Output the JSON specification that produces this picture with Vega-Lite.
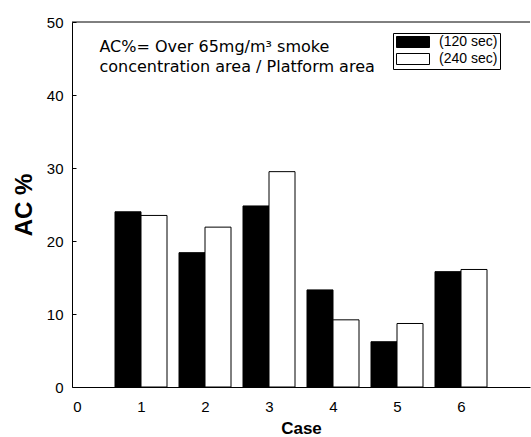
{
  "$schema": "https://vega.github.io/schema/vega-lite/v6.json",
  "autosize": "none",
  "padding": {"left": 72, "top": 22, "right": 1, "bottom": 50},
  "width": 458,
  "height": 365,
  "background": "white",
  "config": {
    "view": {"stroke": null},
    "font": "Liberation Sans",
    "axis": {"labelFont": "Liberation Sans", "titleFont": "Liberation Sans", "labelColor": "black", "titleColor": "black", "domainColor": "black", "tickColor": "black", "grid": false}
  },
  "data": {"values": [
    {"case": 1, "series": "(120 sec)", "value": 24.0},
    {"case": 1, "series": "(240 sec)", "value": 23.5},
    {"case": 2, "series": "(120 sec)", "value": 18.4},
    {"case": 2, "series": "(240 sec)", "value": 21.9},
    {"case": 3, "series": "(120 sec)", "value": 24.8},
    {"case": 3, "series": "(240 sec)", "value": 29.5},
    {"case": 4, "series": "(120 sec)", "value": 13.3},
    {"case": 4, "series": "(240 sec)", "value": 9.2},
    {"case": 5, "series": "(120 sec)", "value": 6.2},
    {"case": 5, "series": "(240 sec)", "value": 8.7},
    {"case": 6, "series": "(120 sec)", "value": 15.8},
    {"case": 6, "series": "(240 sec)", "value": 16.1}
  ]},
  "layer": [
    {
      "transform": [{"filter": "datum.series === '(120 sec)'"}],
      "mark": {"type": "bar", "width": 26, "xOffset": -13, "stroke": "black", "strokeWidth": 1},
      "encoding": {
        "x": {"field": "case", "type": "quantitative", "scale": {"domain": [0, 7], "nice": false},
              "axis": {"values": [0, 1, 2, 3, 4, 5, 6], "format": "d", "ticks": false, "labelFontSize": 15, "labelPadding": 12, "title": "Case", "titleFontSize": 17, "titleFontWeight": "bold", "titlePadding": 6}},
        "y": {"field": "value", "type": "quantitative", "scale": {"domain": [0, 50], "nice": false},
              "axis": {"values": [0, 5, 10, 15, 20, 25, 30, 35, 40, 45, 50], "labelExpr": "datum.value % 10 === 0 ? datum.label : ''", "tickSize": -4, "tickWidth": 1, "labelFontSize": 15, "labelPadding": 13, "title": "AC %", "titleFontSize": 24, "titleFontWeight": "bold", "titlePadding": 10}},
        "fill": {"field": "series", "type": "nominal", "scale": {"domain": ["(120 sec)", "(240 sec)"], "range": ["black", "white"]},
                 "legend": {"title": null, "orient": "none", "legendX": 321, "legendY": 11, "strokeColor": "black", "padding": 2, "rowPadding": 1,
                            "symbolType": "M-1,-1H5V1H-1Z", "symbolSize": 121, "symbolStrokeColor": "black", "symbolStrokeWidth": 1, "labelFontSize": 14, "labelFont": "Liberation Sans", "labelColor": "black", "labelOffset": 30}}
      }
    },
    {
      "transform": [{"filter": "datum.series === '(240 sec)'"}],
      "mark": {"type": "bar", "width": 26, "xOffset": 13, "stroke": "black", "strokeWidth": 1},
      "encoding": {
        "x": {"field": "case", "type": "quantitative"},
        "y": {"field": "value", "type": "quantitative"},
        "fill": {"field": "series", "type": "nominal"}
      }
    },
    {
      "data": {"values": [{}]},
      "mark": {"type": "rule", "color": "black", "strokeWidth": 1},
      "encoding": {"y": {"datum": 50}}
    },
    {
      "data": {"values": [{}]},
      "mark": {"type": "text", "text": "AC%=  Over  65mg/m³ smoke", "align": "left", "baseline": "middle", "fontSize": 16, "font": "DejaVu Sans", "color": "black"},
      "encoding": {"x": {"datum": 0.35}, "y": {"datum": 46.6}}
    },
    {
      "data": {"values": [{}]},
      "mark": {"type": "text", "text": "concentration area / Platform area", "align": "left", "baseline": "middle", "fontSize": 16, "font": "DejaVu Sans", "color": "black"},
      "encoding": {"x": {"datum": 0.35}, "y": {"datum": 43.8}}
    }
  ]
}
